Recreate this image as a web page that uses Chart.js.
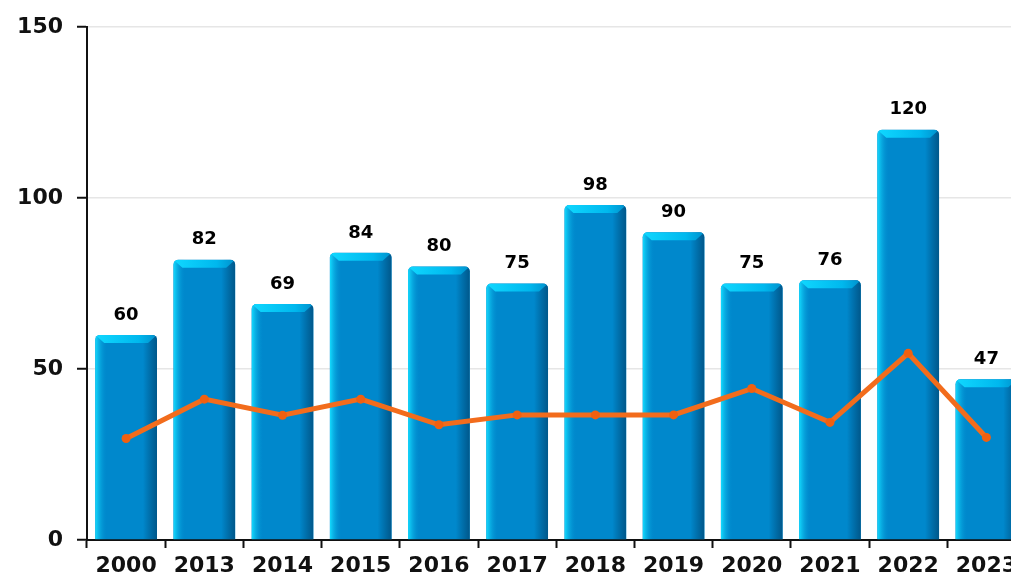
<!DOCTYPE html>
<html>
<head>
<meta charset="utf-8">
<script src="https://cdn.jsdelivr.net/npm/chart.js@4.4.0/dist/chart.umd.min.js"></script>
<style>
  html, body { margin: 0; padding: 0; background: #fff; overflow: hidden; }
  #wrap { width: 1011px; height: 576px; overflow: hidden; }
</style>
</head>
<body>
<div id="wrap"><canvas id="chart" width="1030" height="576"></canvas></div>
<script>
const years = ['2000', '2013', '2014', '2015', '2016', '2017', '2018', '2019', '2020', '2021', '2022', '2023'];
const barValues = [60, 82, 69, 84, 80, 75, 98, 90, 75, 76, 120, 47];
const lineValues = [29.7, 41.2, 36.5, 41.2, 33.7, 36.6, 36.6, 36.6, 44.3, 34.4, 54.6, 30];
const yTicks = [0, 50, 100, 150];

const FONT = '"DejaVu Sans", sans-serif';
const BAR_SET = 1; // dataset index of the bars

// shading on the bars, drawn over each bar element after the library draws it
const barShade = {
  id: 'barShade',
  afterDatasetDraw(chart, args) {
    if (args.index !== BAR_SET) return;
    const ctx = chart.ctx;
    args.meta.data.forEach(function (bar) {
      const w = bar.width;
      const left = bar.x - w / 2;
      const right = bar.x + w / 2;
      const top = bar.y;
      const base = bar.base;
      if (!isFinite(w) || !isFinite(top)) return;
      ctx.save();
      ctx.beginPath();
      ctx.roundRect(left, top, w, base - top, [5, 5, 0, 0]);
      ctx.clip();

      let g = ctx.createLinearGradient(left, 0, left + 12, 0);
      g.addColorStop(0, 'rgba(20,220,255,1)');
      g.addColorStop(1, 'rgba(0,136,204,0)');
      ctx.fillStyle = g;
      ctx.fillRect(left, top, 12, base - top);

      g = ctx.createLinearGradient(right - 14, 0, right, 0);
      g.addColorStop(0, 'rgba(0,80,130,0)');
      g.addColorStop(1, 'rgba(0,85,135,0.95)');
      ctx.fillStyle = g;
      ctx.fillRect(right - 14, top, 14, base - top);

      // top bevel
      g = ctx.createLinearGradient(left, 0, right, 0);
      g.addColorStop(0, '#10d8ff');
      g.addColorStop(0.7, '#00b8ee');
      g.addColorStop(1, '#0090cc');
      ctx.fillStyle = g;
      ctx.beginPath();
      ctx.moveTo(left, top);
      ctx.lineTo(right, top);
      ctx.lineTo(right - 9, top + 8);
      ctx.lineTo(left + 9, top + 8);
      ctx.closePath();
      ctx.fill();
      ctx.restore();
    });
  }
};

// value labels above the bars
const barLabels = {
  id: 'barLabels',
  afterDatasetsDraw(chart) {
    const ctx = chart.ctx;
    const meta = chart.getDatasetMeta(BAR_SET);
    ctx.save();
    ctx.font = 'bold 18px ' + FONT;
    ctx.fillStyle = '#000';
    ctx.textAlign = 'center';
    ctx.textBaseline = 'middle';
    meta.data.forEach(function (bar, i) {
      ctx.fillText(String(barValues[i]), bar.x, bar.y - 20);
    });
    ctx.restore();
  }
};

new Chart(document.getElementById('chart'), {
  data: {
    labels: years,
    datasets: [
      {
        type: 'line',
        data: lineValues,
        borderColor: '#f26c1c',
        backgroundColor: '#f06010',
        borderWidth: 5,
        pointRadius: 4.5,
        pointBorderWidth: 0,
        tension: 0,
        order: 0
      },
      {
        type: 'bar',
        data: barValues,
        backgroundColor: '#0088cc',
        borderWidth: 0,
        borderRadius: { topLeft: 5, topRight: 5, bottomLeft: 0, bottomRight: 0 },
        borderSkipped: 'bottom',
        categoryPercentage: 1,
        barPercentage: 0.79,
        order: 1
      }
    ]
  },
  options: {
    responsive: false,
    animation: false,
    events: [],
    layout: { padding: { top: 24, right: 4, left: 0, bottom: 0 } },
    plugins: { legend: { display: false }, tooltip: { enabled: false } },
    scales: {
      x: {
        offset: true,
        grid: { offset: true, drawOnChartArea: false, tickLength: 8, tickColor: '#111', tickWidth: 2 },
        border: { color: '#111', width: 2 },
        ticks: { color: '#111', font: { family: FONT, size: 22, weight: 'bold' }, padding: 5, maxRotation: 0, autoSkip: false },
        afterFit(scale) { scale.height = 36; }
      },
      y: {
        min: 0,
        max: 150,
        afterBuildTicks(scale) { scale.ticks = yTicks.map(v => ({ value: v })); },
        grid: { color: '#e6e6e6', tickLength: 10, tickColor: '#111', tickWidth: 2, lineWidth: 1.5 },
        border: { color: '#111', width: 2 },
        ticks: { color: '#111', font: { family: FONT, size: 22, weight: 'bold' }, padding: 14 },
        afterFit(scale) { scale.width = 87; }
      }
    }
  },
  plugins: [barShade, barLabels]
});
</script>
</body>
</html>
